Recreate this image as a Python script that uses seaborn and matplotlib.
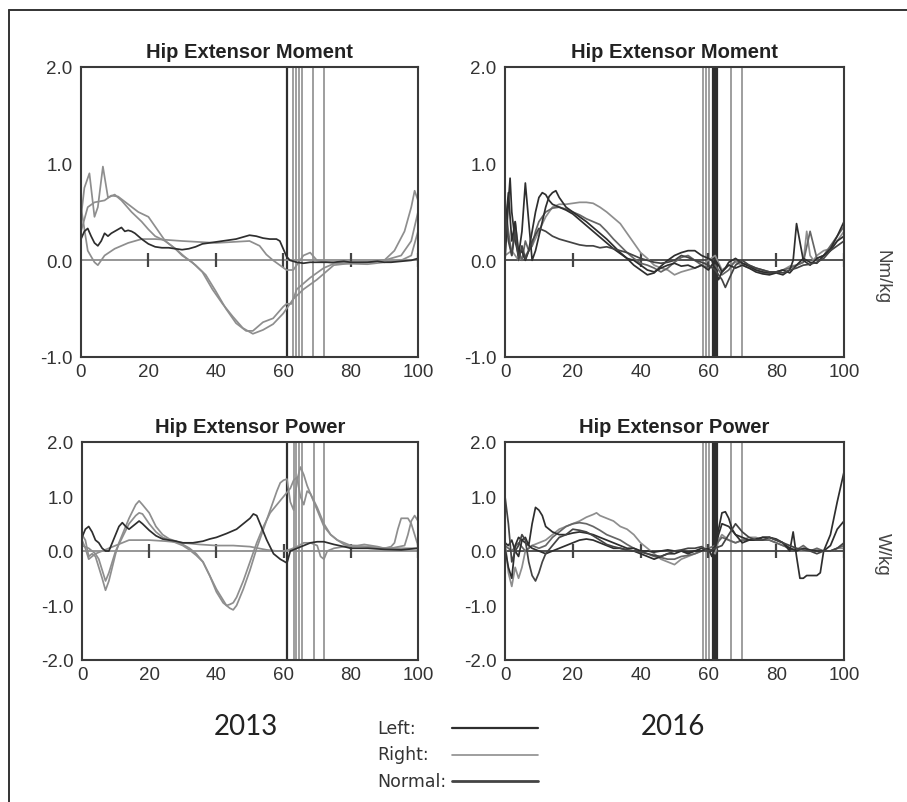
import matplotlib
matplotlib.use("Agg")
import matplotlib.pyplot as plt
from matplotlib.lines import Line2D
import seaborn as sns

sns.set_style("white")
plt.rcParams["font.family"] = ["Liberation Sans", "DejaVu Sans"]

DARK = "#2e2e2e"
GRAY = "#8e8e8e"

# ---------------- 2013: hip extensor moment (Nm/kg) ----------------
m13_left_x = [0, 1, 2, 3, 4, 5, 6, 7, 8, 9, 10, 11, 12, 13, 14, 15, 16, 18, 20, 22, 24, 26, 28, 30, 32, 34, 36, 38, 40,
              42, 44, 46, 48, 50, 52, 54, 56, 58, 59, 60, 61, 62, 64, 66, 68, 70, 72, 75, 78, 80, 82, 85, 88, 90, 92, 95, 98, 100]
m13_left_y = [0.22, 0.3, 0.33, 0.25, 0.18, 0.15, 0.2, 0.28, 0.25, 0.28, 0.3, 0.32, 0.34, 0.3, 0.31, 0.3, 0.28, 0.22, 0.17,
              0.14, 0.13, 0.13, 0.12, 0.11, 0.12, 0.14, 0.17, 0.18, 0.19, 0.2, 0.21, 0.22, 0.24, 0.26, 0.25, 0.23, 0.22,
              0.22, 0.2, 0.12, 0.04, 0.0, -0.02, -0.03, -0.02, -0.02, -0.02, -0.02, -0.01, -0.02, -0.02, -0.02, -0.01,
              -0.02, -0.02, -0.01, 0.0, 0.02]
m13_r1_x = [0, 1, 2.5, 4, 5, 6.5, 8, 10, 12, 15, 18, 20, 22, 25, 28, 30, 33, 36, 39, 42, 45, 48, 51, 54, 57, 60, 61, 63,
            66, 70, 75, 80, 85, 90, 93, 96, 98, 99, 100]
m13_r1_y = [0.45, 0.75, 0.9, 0.45, 0.55, 0.97, 0.65, 0.68, 0.62, 0.5, 0.4, 0.32, 0.25, 0.2, 0.12, 0.05, -0.02, -0.12,
            -0.3, -0.45, -0.58, -0.7, -0.76, -0.72, -0.66, -0.55, -0.5, -0.4, -0.3, -0.2, -0.05, -0.03, -0.02, 0.0,
            0.1, 0.3, 0.55, 0.72, 0.62]
m13_r2_x = [0, 2, 4, 7, 9, 11, 14, 17, 20, 22, 25, 28, 31, 34, 37, 40, 43, 46, 49, 51, 54, 57, 60, 61, 62.5, 64, 68,
            72, 76, 85, 90, 95, 98, 100]
m13_r2_y = [0.3, 0.55, 0.6, 0.62, 0.67, 0.66, 0.58, 0.5, 0.45, 0.35, 0.2, 0.12, 0.03, -0.05, -0.15, -0.32, -0.5, -0.65,
            -0.73, -0.73, -0.64, -0.6, -0.48, -0.45, -0.45, -0.3, -0.18, -0.08, -0.02, -0.02, 0.0, 0.05, 0.2, 0.5]
m13_r3_x = [0, 2, 4, 5, 7, 10, 14, 18, 22, 30, 40, 50, 53, 55, 57, 59, 61, 63, 66, 68, 70, 75, 85, 90, 95, 98, 100]
m13_r3_y = [0.55, 0.1, -0.02, -0.05, 0.05, 0.12, 0.18, 0.22, 0.22, 0.2, 0.18, 0.2, 0.15, 0.06, 0.0, -0.05, -0.1, -0.1,
            0.05, 0.08, 0.0, -0.03, -0.04, -0.02, 0.0, 0.05, 0.3]

# ---------------- 2016: hip extensor moment (Nm/kg) ----------------
m16_a_x = [0, 1, 1.5, 2, 3, 4, 5, 6, 7, 8, 9, 10, 11, 12, 13, 14, 16, 18, 20, 22, 24, 26, 28, 30, 32, 34, 36, 38, 40,
           42, 44, 46, 48, 50, 52, 54, 56, 58, 60, 61, 62, 63, 64, 65, 66, 68, 70, 72, 74, 76, 78, 80, 82, 84, 86, 88,
           90, 92, 94, 96, 98, 100]
m16_a_y = [0.0, 0.6, 0.85, 0.5, 0.2, 0.05, 0.1, 0.0, 0.1, 0.3, 0.5, 0.65, 0.7, 0.68, 0.62, 0.58, 0.55, 0.52, 0.48, 0.42,
           0.36, 0.3, 0.24, 0.18, 0.12, 0.07, 0.02, 0.0, -0.05, -0.1, -0.12, -0.08, -0.05, -0.03, -0.06, -0.05, -0.08,
           -0.05, -0.1, -0.05, 0.0, -0.05, -0.12, -0.08, -0.02, 0.02, -0.03, -0.06, -0.1, -0.12, -0.13, -0.12, -0.1,
           -0.13, -0.05, 0.02, -0.02, -0.03, 0.05, 0.1, 0.2, 0.25]
m16_b_x = [0, 1, 2, 3, 4, 5, 6, 7, 8, 9, 10, 11, 12, 13, 14, 15, 16, 18, 20, 22, 24, 26, 28, 30, 32, 34, 36, 38, 40,
           42, 44, 46, 48, 50, 52, 54, 56, 58, 60, 61, 62, 63, 64, 66, 68, 70, 72, 74, 76, 78, 80, 82, 84, 85, 86, 88,
           90, 92, 94, 96, 98, 100]
m16_b_y = [0.3, 0.7, 0.2, 0.4, 0.05, 0.3, 0.8, 0.4, 0.0, 0.1, 0.25, 0.4, 0.55, 0.66, 0.7, 0.72, 0.65, 0.55, 0.5, 0.45,
           0.4, 0.34, 0.28, 0.22, 0.15, 0.08, 0.02, -0.05, -0.1, -0.15, -0.13, -0.06, 0.0, 0.05, 0.08, 0.1, 0.1, 0.05,
           0.02, 0.0, -0.1, -0.2, -0.12, -0.05, -0.08, -0.05, -0.08, -0.12, -0.14, -0.15, -0.13, -0.15, -0.1, 0.0,
           0.38, 0.0, -0.05, 0.02, 0.05, 0.12, 0.25, 0.4]
m16_c_x = [0, 2, 4, 6, 8, 10, 12, 14, 16, 18, 20, 22, 24, 26, 28, 30, 32, 34, 36, 38, 40, 42, 44, 46, 48, 50, 52, 54,
           56, 58, 60, 62, 64, 66, 68, 70, 72, 74, 76, 78, 80, 82, 84, 86, 88, 89, 90, 91, 92, 94, 96, 98, 100]
m16_c_y = [0.05, 0.1, 0.0, 0.05, 0.15, 0.3, 0.45, 0.55, 0.58, 0.58, 0.59, 0.6, 0.6, 0.59, 0.55, 0.5, 0.44, 0.38, 0.28,
           0.18, 0.08, 0.02, -0.05, -0.08, -0.1, -0.15, -0.12, -0.1, -0.08, -0.05, 0.0, 0.05, -0.1, -0.05, -0.02, -0.05,
           -0.08, -0.1, -0.13, -0.14, -0.12, -0.1, -0.06, -0.05, -0.02, 0.3, 0.05, 0.0, 0.05, 0.1, 0.12, 0.2, 0.3]
m16_d_x = [0, 1, 2, 3, 4, 5, 6, 7, 8, 10, 12, 14, 16, 18, 20, 22, 24, 26, 28, 30, 32, 34, 36, 38, 40, 42, 44, 46, 48,
           50, 52, 54, 56, 58, 60, 62, 64, 65, 66, 68, 70, 72, 74, 76, 78, 80, 82, 84, 86, 88, 90, 92, 94, 96, 98, 100]
m16_d_y = [0.5, 0.2, 0.05, 0.3, 0.0, 0.15, 0.02, 0.1, 0.2, 0.33, 0.3, 0.25, 0.22, 0.2, 0.18, 0.16, 0.15, 0.15, 0.13,
           0.14, 0.12, 0.1, 0.08, 0.05, 0.02, 0.0, -0.02, -0.03, -0.02, 0.0, 0.05, 0.03, 0.0, -0.02, -0.05, -0.1, -0.2,
           -0.28, -0.2, -0.05, 0.0, -0.05, -0.08, -0.1, -0.12, -0.12, -0.13, -0.1, -0.08, -0.05, -0.04, -0.02, 0.02,
           0.1, 0.15, 0.2]
m16_e_x = [0, 1, 2, 3, 4, 5, 6, 7, 8, 9, 10, 12, 14, 16, 18, 20, 22, 24, 26, 28, 30, 32, 34, 36, 38, 40, 42, 44, 46,
           48, 50, 52, 54, 56, 58, 60, 62, 64, 66, 68, 70, 72, 74, 76, 78, 80, 82, 84, 86, 88, 90, 92, 94, 96, 98, 100]
m16_e_y = [0.6, 0.3, 0.05, 0.4, 0.1, 0.0, 0.2, 0.1, 0.15, 0.3, 0.4, 0.5, 0.54, 0.55, 0.53, 0.5, 0.47, 0.43, 0.4, 0.37,
           0.3, 0.22, 0.15, 0.08, 0.02, -0.03, -0.05, -0.08, -0.12, -0.08, -0.02, 0.03, 0.05, 0.0, -0.05, -0.08, -0.05,
           -0.15, -0.1, 0.0, -0.03, -0.05, -0.08, -0.1, -0.12, -0.12, -0.1, -0.08, -0.05, -0.02, 0.3, 0.02, 0.05, 0.15,
           0.25, 0.35]

# ---------------- 2013: hip extensor power (W/kg) ----------------
p13_left_x = [0, 1, 2, 3, 4, 5, 6, 7, 8, 9, 10, 11, 12, 13, 14, 15, 16, 17, 18, 20, 22, 24, 26, 28, 30, 33, 36, 38, 40,
              43, 46, 48, 50, 51, 52, 53, 55, 57, 59, 61, 62, 64, 66, 68, 70, 72, 75, 78, 80, 85, 90, 95, 100]
p13_left_y = [0.25, 0.4, 0.45, 0.35, 0.2, 0.15, 0.05, 0.0, 0.0, 0.15, 0.3, 0.45, 0.52, 0.45, 0.4, 0.45, 0.5, 0.55, 0.5,
              0.38, 0.28, 0.22, 0.2, 0.18, 0.15, 0.15, 0.18, 0.22, 0.25, 0.32, 0.4, 0.5, 0.6, 0.68, 0.65, 0.5, 0.2,
              -0.05, -0.15, -0.22, 0.0, 0.05, 0.1, 0.15, 0.17, 0.17, 0.12, 0.08, 0.05, 0.05, 0.03, 0.02, 0.05]
p13_r1_x = [0, 1, 2, 3, 4, 5, 6, 7, 8, 9, 10, 11, 12, 14, 16, 17, 18, 20, 22, 24, 26, 28, 30, 32, 34, 36, 38, 40, 42, 43,
            44, 45, 46, 48, 50, 52, 54, 56, 58, 59, 60, 61, 62, 63, 64, 65, 66, 67, 68, 70, 72, 74, 76, 78, 80, 82, 84,
            86, 88, 90, 92, 93, 94, 95, 96, 97, 98, 99, 100]
p13_r1_y = [0.3, 0.2, -0.1, -0.05, -0.1, -0.3, -0.5, -0.72, -0.55, -0.3, -0.05, 0.15, 0.3, 0.6, 0.85, 0.92, 0.85, 0.7,
            0.45, 0.3, 0.22, 0.18, 0.12, 0.05, -0.05, -0.2, -0.45, -0.7, -0.9, -1.0, -1.05, -1.08, -1.0, -0.7, -0.35,
            0.05, 0.4, 0.75, 1.1, 1.25, 1.3, 1.32, 0.9, 0.75, 1.3, 1.54, 1.4, 1.2, 1.05, 0.75, 0.45, 0.3, 0.2, 0.15,
            0.1, 0.1, 0.12, 0.1, 0.08, 0.05, 0.08, 0.15, 0.4, 0.6, 0.6, 0.6, 0.5, 0.3, 0.1]
p13_r2_x = [0, 1, 2, 3, 4, 5, 6, 7, 8, 9, 10, 12, 14, 16, 17, 18, 20, 22, 24, 26, 28, 30, 32, 34, 36, 38, 40, 42, 43,
            44, 45, 46, 48, 50, 52, 54, 56, 58, 60, 62, 63, 64, 65, 66, 67, 68, 70, 72, 74, 76, 78, 80, 84, 88, 92, 96,
            97, 98, 99, 100]
p13_r2_y = [0.2, 0.05, -0.15, -0.1, -0.05, -0.15, -0.35, -0.55, -0.4, -0.2, 0.0, 0.25, 0.5, 0.65, 0.7, 0.68, 0.5, 0.35,
            0.25, 0.2, 0.15, 0.1, 0.02, -0.08, -0.2, -0.45, -0.75, -0.95, -1.0, -0.98, -0.95, -0.85, -0.55, -0.2, 0.15,
            0.45, 0.7, 0.85, 1.0, 1.15, 1.3, 1.35, 1.0, 0.85, 1.1, 1.05, 0.8, 0.5, 0.3, 0.2, 0.12, 0.08, 0.08, 0.06,
            0.05, 0.1, 0.3, 0.55, 0.65, 0.55]
p13_r3_x = [0, 2, 4, 6, 8, 10, 12, 14, 16, 20, 25, 30, 35, 40, 45, 50, 55, 58, 60, 62, 64, 66, 68, 70, 71, 72, 73, 75,
            80, 85, 90, 95, 100]
p13_r3_y = [0.1, 0.05, -0.05, 0.0, 0.05, 0.1, 0.15, 0.2, 0.2, 0.2, 0.18, 0.15, 0.12, 0.1, 0.1, 0.08, 0.02, 0.0, 0.0,
            0.03, 0.08, 0.15, 0.15, 0.1, -0.1, -0.15, 0.0, 0.05, 0.1, 0.08, 0.05, 0.05, 0.05]

# ---------------- 2016: hip extensor power (W/kg) ----------------
p16_a_x = [0, 1, 2, 3, 4, 5, 6, 8, 10, 12, 14, 16, 18, 20, 22, 24, 26, 28, 30, 32, 34, 36, 38, 40, 42, 44, 46, 48, 50,
           52, 54, 56, 58, 60, 61, 62, 63, 64, 66, 68, 70, 72, 74, 76, 78, 80, 82, 84, 85, 86, 87, 88, 89, 90, 92, 93,
           94, 96, 98, 100]
p16_a_y = [0.05, -0.3, -0.5, 0.1, 0.25, 0.2, 0.15, 0.05, 0.0, -0.05, 0.0, 0.05, 0.1, 0.15, 0.2, 0.22, 0.2, 0.15, 0.1,
           0.05, 0.05, 0.02, 0.0, -0.05, -0.1, -0.15, -0.1, -0.05, -0.05, 0.0, -0.05, 0.0, 0.05, 0.02, 0.0, 0.05, 0.3,
           0.5, 0.45, 0.3, 0.15, 0.2, 0.2, 0.25, 0.25, 0.2, 0.15, 0.0, 0.35, -0.1, -0.5, -0.5, -0.45, -0.45, -0.45,
           -0.4, 0.0, 0.3, 0.9, 1.45]
p16_b_x = [0, 1, 2, 3, 4, 5, 6, 7, 8, 9, 10, 11, 12, 14, 16, 18, 20, 22, 24, 26, 28, 30, 32, 34, 36, 38, 40, 42, 44, 46,
           48, 50, 52, 54, 56, 58, 60, 61, 62, 63, 64, 65, 66, 67, 68, 70, 72, 74, 76, 78, 80, 82, 84, 86, 88, 90, 92,
           94, 96, 98, 100]
p16_b_y = [0.15, 0.1, 0.2, 0.0, -0.1, 0.2, 0.25, 0.1, 0.5, 0.8, 0.75, 0.65, 0.45, 0.35, 0.3, 0.3, 0.33, 0.35, 0.33, 0.3,
           0.25, 0.2, 0.15, 0.1, 0.05, 0.05, 0.0, 0.0, -0.02, 0.0, 0.02, 0.0, 0.0, -0.02, 0.0, 0.0, 0.05, -0.1, 0.1,
           0.4, 0.7, 0.72, 0.6, 0.4, 0.3, 0.25, 0.2, 0.22, 0.25, 0.25, 0.22, 0.15, 0.05, 0.0, 0.05, 0.02, 0.0, 0.0, 0.1,
           0.4, 0.55]
p16_c_x = [0, 1, 2, 3, 4, 5, 6, 8, 10, 12, 14, 16, 18, 20, 22, 24, 26, 27, 28, 30, 32, 34, 36, 38, 40, 42, 44, 46, 48,
           50, 52, 54, 56, 58, 60, 61, 62, 63, 64, 66, 68, 70, 72, 74, 76, 78, 80, 82, 84, 86, 88, 90, 92, 94, 96, 98, 100]
p16_c_y = [0.2, -0.4, -0.65, -0.3, -0.5, -0.3, 0.0, 0.1, 0.15, 0.2, 0.3, 0.4, 0.45, 0.5, 0.55, 0.62, 0.67, 0.7, 0.65,
           0.6, 0.55, 0.45, 0.4, 0.3, 0.15, 0.05, -0.05, -0.15, -0.2, -0.25, -0.15, -0.1, -0.05, 0.0, 0.05, 0.0, -0.05,
           0.2, 0.3, 0.2, 0.15, 0.2, 0.25, 0.25, 0.2, 0.2, 0.15, 0.1, 0.05, 0.0, 0.0, 0.0, 0.02, 0.0, 0.0, 0.05, 0.05]
p16_d_x = [0, 1, 2, 3, 4, 5, 6, 7, 8, 9, 10, 11, 12, 14, 16, 18, 20, 22, 24, 26, 28, 30, 32, 34, 36, 38, 40, 42, 44, 46,
           48, 50, 52, 54, 56, 58, 60, 62, 64, 66, 68, 70, 72, 74, 76, 78, 80, 82, 84, 86, 88, 90, 92, 94, 96, 98, 100]
p16_d_y = [1.0, 0.5, -0.2, 0.0, 0.1, 0.3, 0.2, -0.2, -0.45, -0.55, -0.4, -0.2, -0.05, 0.1, 0.25, 0.3, 0.4, 0.38, 0.35,
           0.28, 0.2, 0.12, 0.08, 0.05, 0.02, 0.0, -0.02, -0.05, -0.08, -0.1, -0.05, 0.0, 0.02, 0.05, 0.05, 0.08, 0.0,
           0.05, 0.1, 0.3, 0.5, 0.35, 0.25, 0.2, 0.2, 0.25, 0.2, 0.15, 0.1, 0.05, 0.02, 0.0, -0.05, 0.0, 0.0, 0.05, 0.15]
p16_e_x = [0, 2, 4, 6, 8, 10, 12, 14, 16, 18, 20, 22, 24, 26, 28, 30, 32, 34, 36, 38, 40, 42, 44, 46, 48, 50, 52, 54,
           56, 58, 60, 62, 64, 66, 68, 70, 74, 78, 80, 82, 84, 86, 88, 90, 92, 94, 96, 98, 100]
p16_e_y = [0.1, 0.0, 0.15, 0.0, 0.1, 0.05, 0.1, 0.25, 0.35, 0.45, 0.5, 0.52, 0.5, 0.45, 0.38, 0.3, 0.25, 0.2, 0.12,
           0.05, 0.0, -0.05, -0.1, -0.12, -0.15, -0.15, -0.1, -0.08, -0.05, 0.0, 0.05, 0.1, 0.25, 0.2, 0.15, 0.2, 0.2,
           0.2, 0.15, 0.1, 0.05, 0.02, 0.1, 0.0, 0.05, 0.0, 0.0, 0.05, 0.1]

# gait events (% cycle): toe-off markers per session
events13 = [61.0, 63.0, 63.8, 64.7, 65.5, 68.9, 72.1]
events13_col = [DARK, GRAY, GRAY, GRAY, GRAY, GRAY, GRAY]
events16 = [58.3, 59.3, 60.3, 61.4, 61.8, 62.2, 62.6, 66.6, 70.0]
events16_col = [GRAY, GRAY, GRAY, DARK, DARK, DARK, DARK, GRAY, GRAY]

x_ticks = [0, 20, 40, 60, 80, 100]
x_ticklabels = ["0", "20", "40", "60", "80", "100"]
zero_ticks = [20, 40, 60, 80, 100]
mom_yticks = [-1.0, 0.0, 1.0, 2.0]
mom_ylabels = ["-1.0", "0.0", "1.0", "2.0"]
pow_yticks = [-2.0, -1.0, 0.0, 1.0, 2.0]
pow_ylabels = ["-2.0", "-1.0", "0.0", "1.0", "2.0"]

panels = [
    dict(pos=[81 / 907, 445 / 803, 337 / 907, 290 / 803], title="Hip Extensor Moment",
         ylim=(-1, 2), yt=mom_yticks, yl=mom_ylabels, ev=events13, evc=events13_col, zc=GRAY,
         curves=[(m13_r1_x, m13_r1_y, GRAY), (m13_r2_x, m13_r2_y, GRAY), (m13_r3_x, m13_r3_y, GRAY),
                 (m13_left_x, m13_left_y, DARK)]),
    dict(pos=[505 / 907, 445 / 803, 339 / 907, 290 / 803], title="Hip Extensor Moment",
         ylim=(-1, 2), yt=mom_yticks, yl=mom_ylabels, ev=events16, evc=events16_col, zc="#444444",
         curves=[(m16_c_x, m16_c_y, GRAY), (m16_e_x, m16_e_y, "#666666"), (m16_a_x, m16_a_y, DARK),
                 (m16_b_x, m16_b_y, DARK), (m16_d_x, m16_d_y, "#444444")]),
    dict(pos=[82 / 907, 142 / 803, 336 / 907, 218 / 803], title="Hip Extensor Power",
         ylim=(-2, 2), yt=pow_yticks, yl=pow_ylabels, ev=events13, evc=events13_col, zc=GRAY,
         curves=[(p13_r1_x, p13_r1_y, GRAY), (p13_r2_x, p13_r2_y, GRAY), (p13_r3_x, p13_r3_y, GRAY),
                 (p13_left_x, p13_left_y, DARK)]),
    dict(pos=[505 / 907, 142 / 803, 339 / 907, 218 / 803], title="Hip Extensor Power",
         ylim=(-2, 2), yt=pow_yticks, yl=pow_ylabels, ev=events16, evc=events16_col, zc="#444444",
         curves=[(p16_c_x, p16_c_y, GRAY), (p16_e_x, p16_e_y, "#666666"), (p16_a_x, p16_a_y, DARK),
                 (p16_b_x, p16_b_y, DARK), (p16_d_x, p16_d_y, "#444444")]),
]

fig = plt.figure(figsize=(9.07, 8.03), dpi=100)

for p in panels:
    ax = fig.add_axes(p["pos"])
    for xv, c in zip(p["ev"], p["evc"]):
        ax.axvline(xv, color=c, lw=1.6 if c == DARK else 1.2, zorder=1)
    ax.axhline(0, color=p["zc"], lw=1.3, zorder=1.5)
    ax.plot(zero_ticks, [0] * len(zero_ticks), ls="none", marker="|", ms=10, mew=1.6,
            color="#444444", zorder=1.6)
    for cx, cy, col in p["curves"]:
        sns.lineplot(x=cx, y=cy, ax=ax, color=col, lw=1.25, sort=False, estimator=None, zorder=2)
    ax.set_xlim(0, 100)
    ax.set_ylim(*p["ylim"])
    ax.set_xticks(x_ticks)
    ax.set_xticklabels(x_ticklabels)
    ax.set_yticks(p["yt"])
    ax.set_yticklabels(p["yl"])
    ax.tick_params(axis="x", length=0, pad=4, labelsize=13.5, labelcolor="#333333")
    ax.tick_params(axis="y", direction="in", length=11, width=1.6, color="#333333", pad=6,
                   labelsize=13.5, labelcolor="#333333")
    for s in ax.spines.values():
        s.set_color("#3a3a3a")
        s.set_linewidth(1.5)
        s.set_visible(True)
    ax.set_title(p["title"], fontsize=14.5, fontweight="bold", color="#222222", pad=7)

# unit labels on the right
fig.text(882 / 907, 1 - 277 / 803, "Nm/kg", rotation=270, ha="center", va="center",
         fontsize=13.5, color="#444444")
fig.text(882 / 907, 1 - 554 / 803, "W/kg", rotation=270, ha="center", va="center",
         fontsize=13.5, color="#444444")

# session years
fig.text(246 / 907, 1 - 727 / 803, "2013", ha="center", va="center", fontsize=20,
         color="#222222", family=["Lato", "DejaVu Sans"])
fig.text(673 / 907, 1 - 727 / 803, "2016", ha="center", va="center", fontsize=20,
         color="#222222", family=["Lato", "DejaVu Sans"])

# legend
legend_names = ["Left:", "Right:", "Normal:"]
legend_colors = [DARK, GRAY, "#444444"]
legend_widths = [1.6, 1.2, 2.0]
for i, (nm, c, w) in enumerate(zip(legend_names, legend_colors, legend_widths)):
    yy = 1 - (729 + 26.5 * i) / 803
    fig.text(377 / 907, yy, nm, ha="left", va="center", fontsize=12.5, color="#333333",
             family=["DejaVu Sans"])
    fig.add_artist(Line2D([452 / 907, 538 / 907], [yy, yy], color=c, lw=w))

# frame around the figure
fig.add_artist(Line2D([9 / 907, 9 / 907], [0, 1 - 11 / 803], color="#333333", lw=1.4))
fig.add_artist(Line2D([9 / 907, 1], [1 - 11 / 803, 1 - 11 / 803], color="#333333", lw=1.4))

fig.savefig("out.png", dpi=100, facecolor="white")
